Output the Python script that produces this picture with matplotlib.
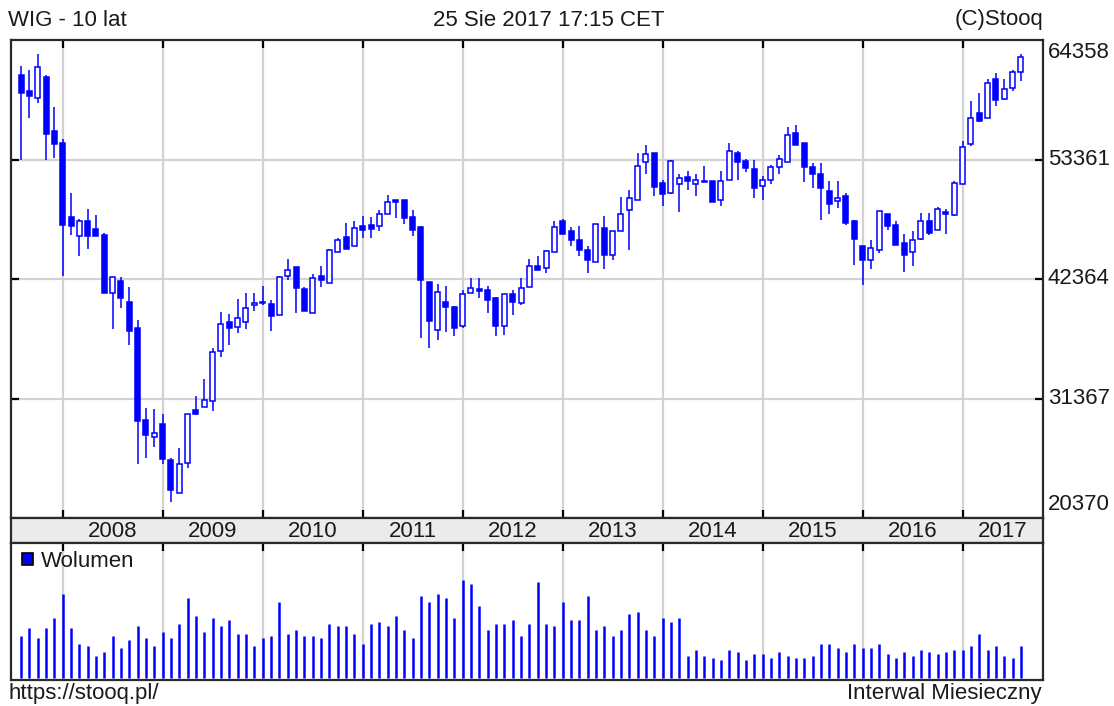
import matplotlib
matplotlib.use('Agg')
import matplotlib.pyplot as plt
from matplotlib.patches import Patch
import numpy as np
import pandas as pd

# ---------------- data ----------------
months = pd.date_range('2007-08-01', periods=121, freq='MS')

open_ = [61113, 59667, 59052, 60989, 55976, 54899, 48040, 46286, 47670, 46963,
         46378, 41119, 42134, 40288, 37889, 29429, 27830, 29060, 25677, 22663,
         25430, 30291, 30598, 31152, 35766, 38442, 37981, 38381, 39950, 40160,
         40073, 39058, 42595, 43425, 41426, 39273, 42656, 42041, 44810, 46194,
         45363, 47270, 47363, 47209, 48378, 49608, 49670, 48040, 47117, 42072,
         37673, 40288, 39765, 38042, 41119, 41426, 41365, 40596, 38042, 40995,
         40134, 41673, 43579, 43364, 44810, 47731, 46748, 45979, 45056, 43918,
         47055, 44595, 46809, 48685, 49608, 53115, 53915, 51208, 50285, 51146,
         51731, 51146, 51423, 51362, 49608, 51454, 53976, 53207, 52500, 50900,
         51454, 52654, 53146, 55760, 54838, 52685, 52069, 50439, 49516, 49977,
         47670, 45425, 44133, 44994, 48378, 47363, 45671, 44810, 46071, 47670,
         46840, 48501, 48285, 51146, 54745, 57606, 57206, 60805, 58959, 59975,
         61420]
high = [61974, 61605, 63050, 61113, 58221, 55207, 50285, 47886, 48808, 48285,
        46594, 42533, 42533, 41611, 38596, 30506, 30445, 29983, 25892, 26815,
        29921, 31583, 33121, 35982, 39365, 39150, 40503, 41057, 41057, 41765,
        40442, 42656, 44195, 43425, 41611, 42810, 43579, 45117, 46133, 47516,
        47670, 48193, 48070, 48747, 50070, 49670, 49670, 48747, 47270, 42072,
        41919, 41734, 39919, 41365, 42441, 42441, 41734, 40749, 40995, 41365,
        42441, 44195, 44502, 44994, 47670, 47886, 47117, 47270, 45425, 47455,
        48193, 46748, 49916, 50593, 53915, 54653, 53915, 51515, 53299, 52069,
        52284, 52069, 52807, 51362, 52284, 54899, 54130, 53423, 53361, 51823,
        52900, 53761, 56375, 56529, 54899, 53053, 53053, 51362, 51362, 50285,
        47824, 45425, 45979, 48593, 48378, 47670, 46533, 46748, 48439, 48439,
        48993, 48808, 51362, 55053, 58744, 59513, 60743, 61359, 60743, 61605,
        63050]
low = [53361, 57206, 58529, 53361, 53515, 42595, 46440, 44441, 45148, 46286,
       41119, 37766, 39673, 36289, 25369, 25923, 26907, 25369, 21832, 22663,
       24999, 29829, 30598, 30229, 35212, 36289, 37427, 37735, 39457, 39950,
       37581, 39058, 42226, 39273, 39457, 39273, 41673, 42041, 44810, 45148,
       45363, 46133, 46133, 46748, 48378, 47978, 47424, 46286, 36905, 35982,
       36751, 37520, 37120, 37827, 41119, 40596, 39273, 37120, 37212, 39058,
       39980, 41673, 43210, 42902, 44810, 46502, 45363, 44441, 42902, 43918,
       43302, 44072, 46809, 44994, 49608, 52038, 50039, 49055, 50223, 48501,
       50593, 50039, 51269, 49424, 49055, 51454, 51454, 52192, 49824, 49670,
       51146, 52069, 53146, 54653, 51269, 50746, 47763, 48347, 48901, 47363,
       43672, 41826, 43272, 44748, 46901, 45517, 42964, 43518, 45917, 46440,
       46840, 46533, 48132, 51146, 54592, 56806, 57206, 58283, 58805, 59667,
       60590]
close = [59452, 59205, 61912, 55668, 54807, 47363, 47209, 47670, 46286, 46286,
         41119, 42533, 40596, 37612, 29306, 27984, 28199, 25769, 22970, 25308,
         29921, 29983, 31213, 35674, 38227, 37827, 38811, 39734, 40134, 40230,
         38965, 42533, 43210, 41519, 39457, 42441, 42226, 45056, 45979, 45148,
         47055, 46901, 46994, 48347, 49424, 49424, 47978, 46901, 42288, 38535,
         41211, 39765, 37889, 40995, 41519, 41304, 40442, 38042, 40995, 40288,
         41580, 43579, 43210, 44902, 47117, 46502, 45979, 44994, 44072, 47455,
         44595, 46748, 48378, 49823, 52807, 53884, 50839, 50193, 53207, 51669,
         51362, 51454, 51300, 49424, 51362, 54130, 53115, 52592, 50746, 51515,
         52654, 53361, 55576, 54653, 52654, 52038, 50746, 49301, 49824, 47516,
         46071, 44133, 45210, 48593, 47209, 45517, 44595, 45979, 47670, 46594,
         48808, 48378, 51208, 54499, 57206, 56898, 60436, 58836, 59821, 61420,
         62835]
volume = [41.7, 49.7, 39.7, 49.7, 59.7, 84.0, 49.7, 33.7, 31.7, 21.7,
          25.7, 41.7, 29.7, 37.7, 51.7, 39.7, 31.7, 45.7, 39.7, 53.7,
          79.7, 61.7, 45.7, 59.7, 51.7, 57.7, 43.7, 43.7, 31.7, 39.7,
          41.7, 75.7, 43.7, 47.7, 41.7, 41.7, 39.7, 53.7, 51.7, 51.7,
          43.7, 33.7, 53.7, 55.7, 51.7, 61.7, 47.7, 39.7, 81.7, 75.7,
          83.7, 79.7, 59.7, 97.7, 93.7, 71.7, 47.7, 53.7, 53.7, 57.7,
          41.7, 53.7, 95.7, 53.7, 51.7, 75.7, 57.7, 57.7, 81.7, 47.7,
          51.7, 41.7, 47.7, 63.7, 65.7, 47.7, 41.7, 59.7, 55.7, 59.7,
          21.7, 27.7, 21.7, 19.7, 17.7, 27.7, 25.7, 17.7, 23.7, 23.7,
          19.7, 25.7, 21.7, 19.7, 19.7, 21.7, 33.7, 33.7, 29.7, 25.7,
          33.7, 29.7, 29.7, 33.7, 23.7, 19.7, 25.7, 21.7, 27.7, 25.7,
          23.7, 25.7, 27.7, 27.7, 31.7, 43.7, 27.7, 31.7, 21.7, 19.7,
          31.7]
price_levels = [20370, 31367, 42364, 53361, 64358]

title_left = 'WIG - 10 lat'
title_mid = '25 Sie 2017 17:15 CET'
title_right = '(C)Stooq'
foot_left = 'https://stooq.pl/'
foot_right = 'Interwal Miesieczny'
vol_label = 'Wolumen'

# ---------------- style ----------------
W, H, DPI = 1114, 706, 100
BLUE = '#0000ff'
GRID = '#d2d2d2'
FRAME = '#2a2a2a'
TXT = '#1a1a1a'
FS = 16
plt.rcParams['font.family'] = ['Liberation Sans', 'DejaVu Sans']

fig = plt.figure(figsize=(W / DPI, H / DPI), dpi=DPI)


def rect(x0, y0, x1, y1):
    return [x0 / W, 1 - y1 / H, (x1 - x0) / W, (y1 - y0) / H]


def fx(px):
    return px / W


def fy(py):
    return 1 - py / H


ax = fig.add_axes(rect(11, 40, 1043, 518))
axd = fig.add_axes(rect(11, 518, 1043, 543))
axv = fig.add_axes(rect(11, 543, 1043, 680))

o = np.array(open_, float)
h = np.array(high, float)
l = np.array(low, float)
c = np.array(close, float)
v = np.array(volume, float)
x = np.arange(len(o))
xlim = (-1.2, 122.64)

year_idx = [i for i, d in enumerate(months) if d.month == 1]
year_lab = [str(months[i].year) for i in year_idx]

# ---------------- price panel ----------------
ax.vlines(x, l, h, color=BLUE, lw=1.1, zorder=2)
up = c >= o
bot = np.minimum(o, c)
hgt = np.maximum(np.abs(c - o), 90)
ax.bar(x[up], hgt[up], bottom=bot[up], width=0.6, facecolor='white',
       edgecolor=BLUE, lw=1.1, zorder=3)
ax.bar(x[~up], hgt[~up], bottom=bot[~up], width=0.6, facecolor=BLUE,
       edgecolor=BLUE, lw=1.1, zorder=3)
ax.set_xlim(*xlim)
ax.set_ylim(price_levels[0], price_levels[-1])
ax.set_xticks(year_idx)
ax.set_yticks(price_levels[1:-1])
ax.grid(True, color=GRID, lw=1.6)
ax.set_axisbelow(True)
ax.tick_params(direction='in', length=6, width=1.6, color='black',
               top=True, right=True, bottom=True, left=True,
               labelbottom=False, labelleft=False)

# right-side price labels
for val in price_levels:
    ypx = 40 + (price_levels[-1] - val) / (price_levels[-1] - price_levels[0]) * 478
    ypx = min(max(ypx, 52), 505)
    fig.text(fx(1048), fy(ypx), f'{val}', ha='left', va='center',
             fontsize=FS, color=TXT)

# ---------------- date band ----------------
axd.set_facecolor('#ebebeb')
axd.set_xlim(*xlim)
axd.set_ylim(0, 1)
axd.set_xticks([])
axd.set_yticks([])
for k, lab in enumerate(year_lab):
    right = year_idx[k + 1] if k + 1 < len(year_idx) else xlim[1]
    axd.text((year_idx[k] + right) / 2, 0.46, lab, ha='center', va='center',
             fontsize=FS, color=TXT)

# ---------------- volume panel ----------------
axv.vlines(x, 0, v, color=BLUE, lw=1.8, zorder=2)
axv.set_xlim(*xlim)
axv.set_ylim(-2.3, 134.7)
axv.set_xticks(year_idx)
axv.set_yticks([])
axv.grid(True, axis='x', color=GRID, lw=1.6)
axv.set_axisbelow(True)
axv.tick_params(direction='in', length=6, width=1.6, color='black',
                top=True, bottom=False, labelbottom=False)
leg = axv.legend(handles=[Patch(facecolor=BLUE, edgecolor='black', lw=1.2,
                                label=vol_label)],
                 loc='upper left', bbox_to_anchor=(fx(22), fy(551)),
                 bbox_transform=fig.transFigure, frameon=False,
                 fontsize=FS, handlelength=0.5, handleheight=0.5,
                 handletextpad=0.35, borderpad=0, borderaxespad=0)
for t in leg.get_texts():
    t.set_color(TXT)

for a in (ax, axd, axv):
    for s in a.spines.values():
        s.set_color(FRAME)
        s.set_linewidth(1.6)

# ---------------- texts ----------------
fig.text(fx(8), fy(20), title_left, ha='left', va='center', fontsize=FS, color=TXT)
fig.text(fx(549), fy(20), title_mid, ha='center', va='center', fontsize=FS, color=TXT)
fig.text(fx(1043), fy(20), title_right, ha='right', va='center', fontsize=FS, color=TXT)
fig.text(fx(8), fy(694), foot_left, ha='left', va='center', fontsize=FS, color=TXT)
fig.text(fx(1042), fy(694), foot_right, ha='right', va='center', fontsize=FS, color=TXT)

fig.savefig('out.png', dpi=DPI)
